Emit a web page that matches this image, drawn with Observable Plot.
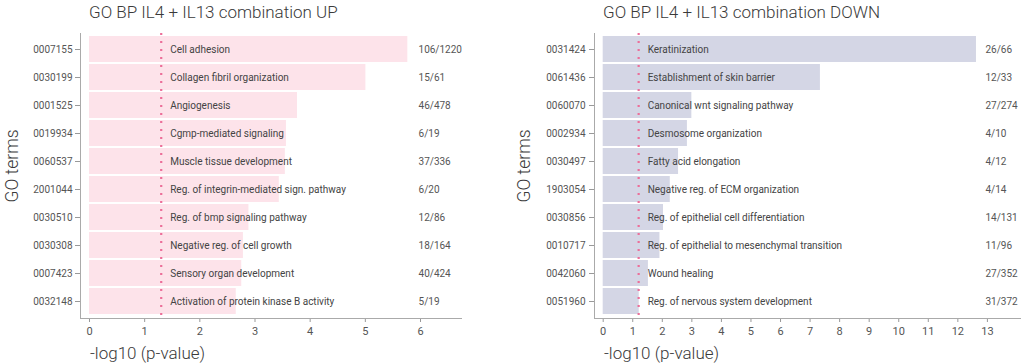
<!DOCTYPE html>
<html><head><meta charset="utf-8">
<script src="https://cdn.jsdelivr.net/npm/d3@7"></script>
<script src="https://cdn.jsdelivr.net/npm/@observablehq/plot@0.6"></script>
<style>
body{margin:0;background:#fff;font-family:Roboto,sans-serif;}
#wrap{position:relative;width:1024px;height:364px;overflow:hidden}
.panel{position:absolute;top:0;width:512px;height:364px}
.panel svg{position:absolute;left:0;top:28px}
.title{position:absolute;top:4px;font-size:17px;line-height:17px;font-weight:300;color:#3a3a3a;white-space:nowrap}
.xlab{position:absolute;top:345px;font-size:17px;line-height:17px;font-weight:300;color:#3a3a3a;white-space:nowrap}
.ylab{position:absolute;top:166px;font-size:17.5px;line-height:17px;font-weight:300;color:#3a3a3a;white-space:nowrap;transform:translate(-50%,-50%) rotate(-90deg)}
</style></head><body><div id="wrap"></div>
<script>
// ---- UP panel data ----
const upIds = ["0007155","0030199","0001525","0019934","0060537","2001044","0030510","0030308","0007423","0032148"];
const upTerms = ["Cell adhesion","Collagen fibril organization","Angiogenesis","Cgmp-mediated signaling","Muscle tissue development","Reg. of integrin-mediated sign. pathway","Reg. of bmp signaling pathway","Negative reg. of cell growth","Sensory organ development","Activation of protein kinase B activity"];
const upValues = [5.77, 5.01, 3.77, 3.57, 3.55, 3.44, 2.89, 2.79, 2.76, 2.66];
const upCounts = ["106/1220","15/61","46/478","6/19","37/336","6/20","12/86","18/164","40/424","5/19"];
const upThreshold = 1.3;

// ---- DOWN panel data ----
const downIds = ["0031424","0061436","0060070","0002934","0030497","1903054","0030856","0010717","0042060","0051960"];
const downTerms = ["Keratinization","Establishment of skin barrier","Canonical wnt signaling pathway","Desmosome organization","Fatty acid elongation","Negative reg. of ECM organization","Reg. of epithelial cell differentiation","Reg. of epithelial to mesenchymal transition","Wound healing","Reg. of nervous system development"];
const downValues = [12.63, 7.35, 3.0, 2.85, 2.55, 2.27, 2.04, 1.92, 1.53, 1.22];
const downCounts = ["26/66","12/33","27/274","4/10","4/12","4/14","14/131","11/96","27/352","31/372"];
const downThreshold = 1.2;

const titles = ["GO BP IL4 + IL13 combination UP", "GO BP IL4 + IL13 combination DOWN"];

function makePanel(ids, terms, values, counts, threshold, o) {
  const data = ids.map((id, i) => ({id, term: terms[i], value: values[i], count: counts[i]}));
  const labelX = Math.ceil(d3.max(values));
  return Plot.plot({
    width: 512, height: 336,
    marginTop: 5, marginBottom: 46, marginLeft: o.ml, marginRight: o.mr,
    style: {fontFamily: "Roboto, sans-serif", fontSize: "10px", color: "#555", background: "transparent"},
    x: {domain: o.xdomain, label: null},
    y: {domain: ids, paddingInner: 0.07, paddingOuter: 0.1, label: null},
    marks: [
      Plot.barX(data, {x: "value", y: "id", fill: o.fill}),
      Plot.ruleX([threshold], {stroke: "#ec6f9a", strokeWidth: 2.2, strokeDasharray: "2,6"}),
      Plot.text(data, {x: () => threshold, y: "id", text: "term", textAnchor: "start", dx: 9, fill: "#444", fontSize: 10}),
      Plot.text(data, {x: () => labelX, y: "id", text: "count", textAnchor: "start", dx: -2, fill: "#555", fontSize: 10}),
      Plot.axisX({ticks: d3.range(0, labelX + 1), tickFormat: d => String(d), tickSize: 4, tickPadding: 5, fontSize: 11, stroke: "#999", color: "#555", label: null}),
      Plot.axisY({tickSize: 5, tickPadding: o.tp, stroke: "#999", color: "#555", label: null}),
      Plot.ruleX([o.xdomain[0]], {stroke: "#aaa"}),
      Plot.frame({anchor: "bottom", stroke: "#aaa"})
    ]
  });
}

const wrap = document.getElementById("wrap");
const cfgs = [
  {left: 0, ids: upIds, terms: upTerms, values: upValues, counts: upCounts, thr: upThreshold,
   o: {ml: 80, mr: 51, xdomain: [-0.163, 6.743], fill: "#fde3ea", tp: 3}, titleX: 89, ylabX: 12},
  {left: 512, ids: downIds, terms: downTerms, values: downValues, counts: downCounts, thr: downThreshold,
   o: {ml: 82, mr: 4, xdomain: [-0.294, 14.12], fill: "#d4d6e5", tp: 4}, titleX: 91, ylabX: 12}
];
cfgs.forEach((c, k) => {
  const p = document.createElement("div");
  p.className = "panel";
  p.style.left = c.left + "px";
  const t = document.createElement("div");
  t.className = "title"; t.style.left = c.titleX + "px"; t.textContent = titles[k];
  p.appendChild(t);
  p.appendChild(makePanel(c.ids, c.terms, c.values, c.counts, c.thr, c.o));
  const xl = document.createElement("div");
  xl.className = "xlab"; xl.style.left = (c.titleX + 1) + "px"; xl.textContent = "-log10 (p-value)";
  p.appendChild(xl);
  const yl = document.createElement("div");
  yl.className = "ylab"; yl.style.left = c.ylabX + "px"; yl.textContent = "GO terms";
  p.appendChild(yl);
  wrap.appendChild(p);
});
</script>
</body></html>
